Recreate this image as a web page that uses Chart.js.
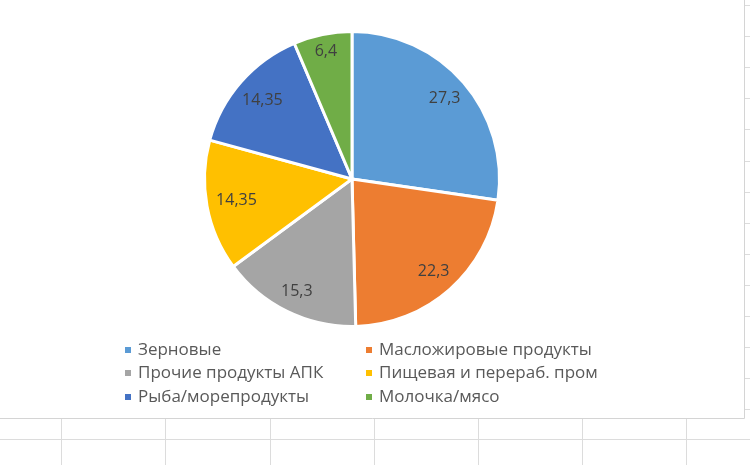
<!DOCTYPE html>
<html><head><meta charset="utf-8">
<script src="https://cdn.jsdelivr.net/npm/chart.js@4.4.1/dist/chart.umd.min.js"></script>
<style>html,body{margin:0;padding:0;background:#fff;}#wrap{width:750px;height:465px;position:relative;}</style>
</head><body>
<div id="wrap"><canvas id="c" width="750" height="465"></canvas></div>
<script>
const categories = ["Зерновые","Масложировые продукты","Прочие продукты АПК","Пищевая и перераб. пром","Рыба/морепродукты","Молочка/мясо"];
const shares = [27.3, 22.3, 15.3, 14.35, 14.35, 6.4];
const colors = ["#5B9BD5","#ED7D31","#A5A5A5","#FFC000","#4472C4","#70AD47"];

const FONT = "'Open Sans', 'Noto Sans', sans-serif";

const sheetPlugin = {
  id: 'sheet',
  beforeDraw(chart) {
    const ctx = chart.ctx;
    ctx.save();
    ctx.fillStyle = '#fff';
    ctx.fillRect(0, 0, chart.width, chart.height);
    ctx.strokeStyle = '#dcdcdc';
    ctx.lineWidth = 1;
    ctx.beginPath();
    ctx.moveTo(0, 439.5); ctx.lineTo(750, 439.5);
    [61, 165, 270, 374, 478, 582, 686].forEach(x => { ctx.moveTo(x + 0.5, 419); ctx.lineTo(x + 0.5, 465); });
    for (let y = 5; y < 420; y += 31.1) { ctx.moveTo(745, Math.round(y) + 0.5); ctx.lineTo(750, Math.round(y) + 0.5); }
    ctx.stroke();
    ctx.strokeStyle = '#d4d4d4';
    ctx.beginPath();
    ctx.moveTo(744.5, 0); ctx.lineTo(744.5, 418.5); ctx.lineTo(0, 418.5);
    ctx.stroke();
    ctx.restore();
  }
};

const labelPlugin = {
  id: 'sliceLabels',
  afterDatasetsDraw(chart) {
    const ctx = chart.ctx;
    const meta = chart.getDatasetMeta(0);
    ctx.save();
    ctx.font = '16px ' + FONT;
    ctx.fillStyle = '#404040';
    ctx.textAlign = 'center';
    ctx.textBaseline = 'middle';
    meta.data.forEach((arc, i) => {
      const p = arc.getProps(['x','y','startAngle','endAngle','outerRadius']);
      const mid = (p.startAngle + p.endAngle) / 2;
      const txt = String(shares[i]).replace('.', ',');
      const w = ctx.measureText(txt).width + 4, h = 16;
      const limit = p.outerRadius - 6;
      const dx = Math.cos(mid), dy = Math.sin(mid);
      let d = limit;
      for (; d > 0; d -= 0.5) {
        const cx = dx * d, cy = dy * d;
        let ok = true;
        for (const sx of [-1, 1]) for (const sy of [-1, 1]) {
          const qx = cx + sx * w / 2, qy = cy + sy * h / 2;
          if (Math.hypot(qx, qy) > limit) ok = false;
        }
        if (ok) break;
      }
      ctx.fillText(txt, p.x + dx * d, p.y + dy * d);
    });
    ctx.restore();
  }
};

const legendPlugin = {
  id: 'gridLegend',
  afterDraw(chart) {
    const ctx = chart.ctx;
    const colX = [128, 369];
    const rowY = [350, 373, 397];
    ctx.save();
    ctx.font = '17px ' + FONT;
    ctx.textBaseline = 'middle';
    chart.data.labels.forEach((lab, i) => {
      const x = colX[i % 2], y = rowY[Math.floor(i / 2)];
      ctx.fillStyle = colors[i];
      ctx.fillRect(x - 3, y - 3, 6, 6);
      ctx.fillStyle = '#595959';
      ctx.fillText(lab, x + 10, y);
    });
    ctx.restore();
  }
};

new Chart(document.getElementById('c'), {
  type: 'pie',
  data: {
    labels: categories,
    datasets: [{ data: shares, backgroundColor: colors, borderColor: '#ffffff', borderWidth: 3 }]
  },
  options: {
    responsive: false,
    animation: false,
    layout: { padding: { top: 30, bottom: 137, left: 0, right: 46 } },
    plugins: { legend: { display: false }, tooltip: { enabled: false } }
  },
  plugins: [sheetPlugin, labelPlugin, legendPlugin]
});
</script>
</body></html>
